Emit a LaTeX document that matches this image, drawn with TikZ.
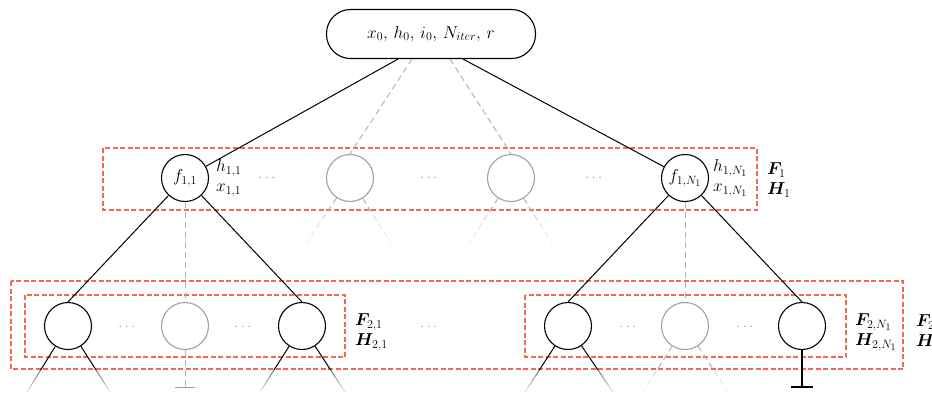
\documentclass[tikz,border=0pt]{standalone}
\usepackage{amsmath,bm}
\usetikzlibrary{calc}
\definecolor{redd}{RGB}{240,105,85}
\definecolor{grayc}{RGB}{160,160,160}
\definecolor{grayd}{RGB}{178,178,178}
\newcommand{\myveil}[4]{% x1 y1 x2 y2
  \foreach \k in {0,...,9}{
    \pgfmathsetmacro{\ya}{#2+(#4-#2)*\k/10}
    \pgfmathsetmacro{\yb}{#2+(#4-#2)*(\k+1)/10}
    \pgfmathsetmacro{\op}{0.45+0.05*\k}
    \fill[white, fill opacity=\op] (#1,\ya) rectangle (#3,\yb);
  }}
\begin{document}
\begin{tikzpicture}[x=1pt,y=-1pt, font=\fontsize{17.28}{20}\selectfont,
  circ/.style={circle, draw, line width=1.1pt, minimum size=47pt, inner sep=0pt},
  gcirc/.style={circ, draw=grayc},
  sol/.style={line width=1pt},
  gdash/.style={draw=grayd, line width=1pt, dash pattern=on 6pt off 4pt},
  rbox/.style={draw=redd, line width=1.4pt, dash pattern=on 5pt off 2.5pt},
  dotsl/.style={text=grayc, inner sep=0pt, font=\fontsize{14.4}{16}\selectfont},
  lab/.style={anchor=west, align=left, inner sep=0pt}]
\useasboundingbox (0,0) rectangle (932,392);
\clip (0,0) rectangle (932,392);

% red boxes
\draw[rbox] (103,148) rectangle (757,210);
\draw[rbox] (11,281) rectangle (903,369);
\draw[rbox] (25,295) rectangle (345,357);
\draw[rbox] (525,295) rectangle (846,357);

% nodes
\node[draw, line width=1.1pt, rounded corners=24pt, minimum width=209pt, minimum height=49pt] (top) at (431,34) {$x_0,\, h_0,\, i_0,\, N_{iter},\, r$};
\node[circ] (f11) at (185,178) {$f_{1,1}$};
\node[gcirc] (g1) at (350,178) {};
\node[gcirc] (g2) at (511,178) {};
\node[circ] (f1N) at (685,178) {$f_{1,N_1}$};

\node[circ] (c1) at (68,326) {};
\node[gcirc] (c2) at (185,326) {};
\node[circ] (c3) at (302,326) {};
\node[circ] (c4) at (568,326) {};
\node[gcirc] (c5) at (685,326) {};
\node[circ] (c6) at (802,326) {};

% labels
\node[lab] (l11) at (216,178) {$h_{1,1}$\\$x_{1,1}$};
\node[lab] (l1N) at (713,178) {$h_{1,N_1}$\\$x_{1,N_1}$};
\node[lab] (F1) at (767,180) {$\bm{F}_1$\\$\bm{H}_1$};
\node[lab] (F21) at (355,332) {$\bm{F}_{2,1}$\\$\bm{H}_{2,1}$};
\node[lab] (F2N) at (855,332) {$\bm{F}_{2,N_1}$\\$\bm{H}_{2,N_1}$};
\node[lab] (F2) at (916,332) {$\bm{F}_2$\\$\bm{H}_2$};

% dots
\node[dotsl] (d1) at (268,178) {$\cdots$};
\node[dotsl] (d2) at (430,178) {$\cdots$};
\node[dotsl] (d3) at (595,178) {$\cdots$};
\node[dotsl] (d4) at (128,327) {$\cdots$};
\node[dotsl] (d5) at (244,327) {$\cdots$};
\node[dotsl] (d6) at (430,327) {$\cdots$};
\node[dotsl] (d7) at (629,327) {$\cdots$};
\node[dotsl] (d8) at (746,327) {$\cdots$};

% free ends
\coordinate (ga1) at (305,245);
\coordinate (gb1) at (392,245);
\coordinate (ga2) at (468,245);
\coordinate (gb2) at (553,245);
\coordinate (e1a) at (27,392);
\coordinate (e1b) at (110,392);
\coordinate (e3a) at (260,392);
\coordinate (e3b) at (345,392);
\coordinate (e4a) at (525,392);
\coordinate (e4b) at (613,392);
\coordinate (e5a) at (643,392);
\coordinate (e5b) at (728,392);
\coordinate (t2) at (185,387);
\coordinate (t6) at (802,387);

% connectors from top
\draw[sol] ($(top.south)+(-33,0)$) -- (f11);
\draw[sol] ($(top.south)+(32,0)$) -- (f1N);
\draw[gdash] ($(top.south)+(-19,0)$) -- (g1.north);
\draw[gdash] ($(top.south)+(19,0)$) -- (g2.north);

% row 1 down
\draw[sol] (f11) -- (c1.north);
\draw[sol] (f11) -- (c3.north);
\draw[gdash] (f11) -- (c2);
\draw[sol] (f1N) -- (c4.north);
\draw[sol] (f1N) -- (c6.north);
\draw[gdash] (f1N) -- (c5);
\draw[gdash] (g1) -- (ga1);
\draw[gdash] (g1) -- (gb1);
\draw[gdash] (g2) -- (ga2);
\draw[gdash] (g2) -- (gb2);

% row 2 down
\draw[sol] (c1) -- (e1a);
\draw[sol] (c1) -- (e1b);
\draw[sol] (c3) -- (e3a);
\draw[sol] (c3) -- (e3b);
\draw[sol] (c4) -- (e4a);
\draw[sol] (c4) -- (e4b);
\draw[gdash] (c5) -- (e5a);
\draw[gdash] (c5) -- (e5b);
\draw[gdash] (c2) -- (t2);
\draw[draw=grayc, line width=1pt] ($(t2)+(-10,0)$) -- ($(t2)+(10,0)$);
\draw[line width=1.3pt] (c6) -- (t6);
\draw[line width=1.3pt] ($(t6)+(-11,0)$) -- ($(t6)+(11,0)$);

% fading veils
\myveil{288}{212}{568}{247}
\myveil{9}{370}{128}{393}
\myveil{241}{370}{363}{393}
\myveil{506}{370}{747}{393}
\end{tikzpicture}
\end{document}
